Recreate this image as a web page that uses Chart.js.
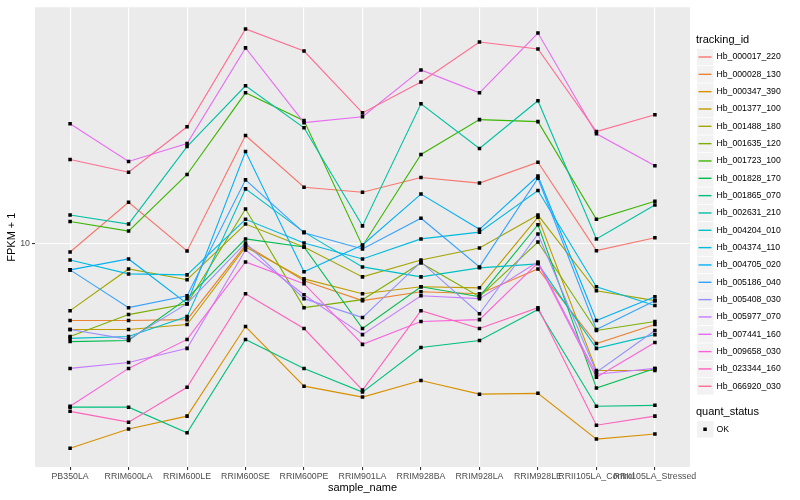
<!DOCTYPE html>
<html>
<head>
<meta charset="utf-8">
<script src="https://cdn.jsdelivr.net/npm/chart.js@4.4.1/dist/chart.umd.min.js"></script>
<style>
  html, body { margin: 0; padding: 0; background: #fff; }
  #wrap { width: 800px; height: 500px; }
</style>
</head>
<body>
<div id="wrap"><canvas id="expressionChart" width="800" height="500"></canvas></div>
<script>
// sample names (x axis)
const samples = ['PB350LA', 'RRIM600LA', 'RRIM600LE', 'RRIM600SE', 'RRIM600PE', 'RRIM901LA',
                 'RRIM928BA', 'RRIM928LA', 'RRIM928LE', 'RRII105LA_Control', 'RRII105LA_Stressed'];

const trackingIds = ['Hb_000017_220', 'Hb_000028_130', 'Hb_000347_390', 'Hb_001377_100', 'Hb_001488_180',
                     'Hb_001635_120', 'Hb_001723_100', 'Hb_001828_170', 'Hb_001865_070', 'Hb_002631_210',
                     'Hb_004204_010', 'Hb_004374_110', 'Hb_004705_020', 'Hb_005186_040', 'Hb_005408_030',
                     'Hb_005977_070', 'Hb_007441_160', 'Hb_009658_030', 'Hb_023344_160', 'Hb_066920_030'];

const lineColors = ['#F8766D', '#EA8331', '#D89000', '#C09B00', '#A3A500', '#7CAE00', '#39B600', '#00BB4E',
                    '#00BF7D', '#00C1A3', '#00BFC4', '#00BAE0', '#00B0F6', '#35A2FF', '#9590FF', '#C77CFF',
                    '#E76BF3', '#FA62DB', '#FF62BC', '#FF6C91'];

// FPKM + 1 per sample
const hb000017_220 = [9.4, 13.8, 9.48, 23.1, 15.5, 14.9, 16.7, 16.0, 18.8, 9.5, 10.5];
const hb000028_130 = [5.54, 5.54, 5.58, 9.92, 7.53, 6.46, 6.92, 6.81, 8.25, 4.64, 5.37];
const hb000347_390 = [2.07, 2.40, 2.65, 5.29, 3.34, 3.07, 3.49, 3.14, 3.16, 2.22, 2.31];
const hb001377_100 = [5.17, 5.17, 5.37, 9.77, 7.64, 6.81, 7.19, 7.13, 12.3, 3.77, 3.77];
const hb001488_180 = [5.98, 8.25, 7.59, 11.66, 9.77, 7.76, 8.84, 9.70, 12.5, 6.97, 6.46];
const hb001635_120 = [4.90, 5.80, 6.31, 13.1, 6.12, 6.51, 8.64, 6.66, 10.15, 5.13, 5.50];
const hb001723_100 = [11.9, 11.05, 17.1, 32.1, 25.9, 9.85, 19.95, 26.1, 25.7, 12.1, 13.9];
const hb001828_170 = [4.71, 4.75, 6.56, 10.4, 9.77, 5.21, 7.19, 6.66, 11.6, 3.29, 3.83];
const hb001865_070 = [2.84, 2.84, 2.33, 4.79, 3.83, 3.19, 4.50, 4.75, 6.03, 2.86, 2.88];
const hb002631_210 = [12.5, 11.66, 21.2, 33.9, 24.5, 11.5, 29.5, 20.9, 30.2, 10.4, 13.5];
const hb004204_010 = [4.83, 4.90, 5.71, 15.3, 10.96, 8.38, 7.76, 8.32, 8.58, 4.47, 4.97];
const hb004374_110 = [8.84, 7.94, 7.88, 12.1, 10.08, 8.91, 10.4, 10.96, 15.1, 7.19, 6.22];
const hb004705_020 = [8.19, 8.91, 6.31, 20.4, 8.07, 9.92, 14.7, 11.2, 16.9, 5.54, 6.66];
const hb005186_040 = [8.19, 6.12, 6.71, 16.4, 10.9, 9.62, 12.2, 8.38, 16.6, 5.17, 6.46];
const hb005408_030 = [5.17, 4.79, 6.31, 10.08, 6.56, 5.67, 8.71, 5.84, 10.8, 3.72, 5.13];
const hb005977_070 = [3.83, 4.01, 4.47, 9.55, 6.76, 4.97, 6.71, 6.56, 8.71, 3.66, 3.83];
const hb007441_160 = [25.3, 18.9, 21.7, 45.4, 25.5, 26.7, 38.3, 32.1, 50.9, 23.4, 18.3];
const hb009658_030 = [2.86, 3.83, 4.79, 8.71, 7.36, 4.61, 5.50, 5.58, 8.64, 3.58, 4.68];
const hb023344_160 = [2.75, 2.53, 3.31, 6.81, 5.21, 3.24, 5.98, 5.21, 6.12, 2.47, 2.65];
const hb066920_030 = [19.2, 17.4, 24.7, 52.5, 44.3, 27.5, 34.9, 47.5, 45.0, 23.8, 27.1];

const series = [hb000017_220, hb000028_130, hb000347_390, hb001377_100, hb001488_180,
                hb001635_120, hb001723_100, hb001828_170, hb001865_070, hb002631_210,
                hb004204_010, hb004374_110, hb004705_020, hb005186_040, hb005408_030,
                hb005977_070, hb007441_160, hb009658_030, hb023344_160, hb066920_030];

const yTicks = [10];
const yMin = 1.79;
const yMax = 62.1;

const axisFont = '"Liberation Sans Narrow", "Liberation Sans", Arial, sans-serif';
const mainFont = '"Liberation Sans", Arial, sans-serif';

const datasets = series.map((vals, i) => ({
    label: trackingIds[i],
    data: vals.map((v, j) => ({ x: j, y: v })),
    borderColor: lineColors[i],
    borderWidth: 1.1,
    pointRadius: 0,
    fill: false,
    tension: 0,
    order: 20 - i
}));

// quant_status = OK, all points on top
datasets.push({
    label: 'OK',
    type: 'scatter',
    data: series.flatMap(vals => vals.map((v, j) => ({ x: j, y: v }))),
    backgroundColor: '#000000',
    borderWidth: 0,
    pointStyle: 'rect',
    pointRadius: 2.5,
    showLine: false,
    order: 0
});

// grey panel like ggplot
const panelPlugin = {
    id: 'panel',
    beforeDraw(chart) {
        const ctx = chart.ctx;
        const a = chart.chartArea;
        ctx.save();
        ctx.fillStyle = '#FFFFFF';
        ctx.fillRect(0, 0, chart.width, chart.height);
        ctx.fillStyle = '#EBEBEB';
        ctx.fillRect(a.left, a.top, a.right - a.left, a.bottom - a.top);
        ctx.restore();
    }
};

// legend on the right
const legendPlugin = {
    id: 'ggLegend',
    afterDraw(chart) {
        const ctx = chart.ctx;
        ctx.save();
        ctx.textAlign = 'left';
        ctx.textBaseline = 'middle';
        ctx.fillStyle = '#000';
        ctx.font = '11px ' + mainFont;
        ctx.fillText('tracking_id', 696, 40);
        trackingIds.forEach((id, i) => {
            const cy = 57 + i * 17.33;
            ctx.fillStyle = '#F2F2F2';
            ctx.fillRect(697, cy - 8.2, 16.5, 16.5);
            ctx.strokeStyle = lineColors[i];
            ctx.lineWidth = 1.4;
            ctx.beginPath();
            ctx.moveTo(698.5, cy);
            ctx.lineTo(711.5, cy);
            ctx.stroke();
            ctx.fillStyle = '#000';
            ctx.font = '8.7px ' + mainFont;
            ctx.fillText(id, 716.5, cy);
        });
        ctx.font = '11px ' + mainFont;
        ctx.fillText('quant_status', 696, 412);
        ctx.fillStyle = '#F2F2F2';
        ctx.fillRect(697, 421, 16.5, 16.5);
        ctx.fillStyle = '#000';
        ctx.fillRect(703.3, 427.5, 3.5, 3.5);
        ctx.font = '8.7px ' + mainFont;
        ctx.fillText('OK', 716.5, 429.5);
        ctx.restore();
    }
};

new Chart(document.getElementById('expressionChart'), {
    type: 'line',
    data: { datasets: datasets },
    options: {
        responsive: false,
        animation: false,
        devicePixelRatio: 1,
        layout: { padding: { left: 0, top: 5, right: 110, bottom: 0 } },
        plugins: {
            legend: { display: false },
            tooltip: { enabled: false }
        },
        scales: {
            x: {
                type: 'linear',
                min: -0.6,
                max: 10.6,
                afterBuildTicks: s => { s.ticks = samples.map((_, i) => ({ value: i })); },
                afterFit: s => { s.height = 33; },
                ticks: {
                    autoSkip: false,
                    maxRotation: 0,
                    minRotation: 0,
                    padding: 1,
                    color: '#4D4D4D',
                    font: { family: axisFont, size: 8.8 },
                    callback: v => samples[v]
                },
                grid: { color: '#FFFFFF', lineWidth: 1.1, tickColor: '#333333', tickLength: 3 },
                border: { display: false },
                title: {
                    display: true,
                    text: 'sample_name',
                    color: '#000',
                    font: { family: mainFont, size: 11 },
                    padding: { top: 0, bottom: 5 }
                }
            },
            y: {
                type: 'logarithmic',
                min: yMin,
                max: yMax,
                afterBuildTicks: s => { s.ticks = yTicks.map(v => ({ value: v })); },
                afterFit: s => { s.width = 35; },
                ticks: {
                    padding: 2,
                    color: '#4D4D4D',
                    font: { family: axisFont, size: 8.8 },
                    callback: v => String(v)
                },
                grid: { color: '#FFFFFF', lineWidth: 1.1, tickColor: '#333333', tickLength: 3 },
                border: { display: false },
                title: {
                    display: true,
                    text: 'FPKM + 1',
                    color: '#000',
                    font: { family: mainFont, size: 11 },
                    padding: { top: 5, bottom: 0 }
                }
            }
        }
    },
    plugins: [panelPlugin, legendPlugin]
});
</script>
</body>
</html>
